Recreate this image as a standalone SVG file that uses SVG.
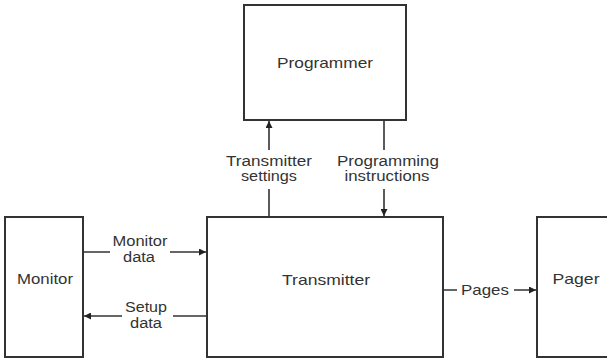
<svg xmlns="http://www.w3.org/2000/svg" width="607" height="359" viewBox="0 0 607 359">
<defs>
<style>
.box{fill:#fff;stroke:#333;stroke-width:2}
.t{font-family:"Liberation Sans",Arial,sans-serif;font-size:15px;fill:#333;text-anchor:middle}
.s{font-size:14px}
.c{stroke:#333;stroke-width:1.6;fill:none}
</style>
<marker id="ah" viewBox="0 0 10 10" refX="10" refY="5" markerWidth="7" markerHeight="7" markerUnits="userSpaceOnUse" orient="auto"><path d="M0,0L10,5L0,10z" fill="#222"/></marker>
</defs>
<rect width="607" height="359" fill="#fff"/>
<g id="programmer"><rect class="box" x="244" y="5" width="162" height="115"/><text class="t" x="325" y="68" textLength="96" lengthAdjust="spacingAndGlyphs">Programmer</text></g>
<g id="transmitter"><rect class="box" x="207" y="217" width="236" height="140"/><text class="t" x="326" y="285" textLength="88" lengthAdjust="spacingAndGlyphs">Transmitter</text></g>
<g id="monitor"><rect class="box" x="5" y="217" width="78" height="140"/><text class="t" x="45" y="284" textLength="56" lengthAdjust="spacingAndGlyphs">Monitor</text></g>
<g id="pager"><rect class="box" x="537" y="217" width="80" height="140"/><text class="t" x="576" y="284" textLength="47" lengthAdjust="spacingAndGlyphs">Pager</text></g>
<g id="connectors">
<path class="c" d="M269,217V189M269,150V121" marker-end="url(#ah)"/>
<path class="c" d="M384,120V150M384,189V216" marker-end="url(#ah)"/>
<path class="c" d="M83,252H110M170,252H206" marker-end="url(#ah)"/>
<path class="c" d="M207,316H173M122,316H84" marker-end="url(#ah)"/>
<path class="c" d="M443,290H457M514,290H536" marker-end="url(#ah)"/>
<text class="t s" x="269" y="166" textLength="86" lengthAdjust="spacingAndGlyphs">Transmitter</text>
<text class="t s" x="269" y="181" textLength="56" lengthAdjust="spacingAndGlyphs">settings</text>
<text class="t s" x="388" y="166" textLength="102" lengthAdjust="spacingAndGlyphs">Programming</text>
<text class="t s" x="387" y="181" textLength="85" lengthAdjust="spacingAndGlyphs">instructions</text>
<text class="t s" x="140" y="246" textLength="55" lengthAdjust="spacingAndGlyphs">Monitor</text>
<text class="t s" x="139" y="262" textLength="32" lengthAdjust="spacingAndGlyphs">data</text>
<text class="t s" x="146" y="312" textLength="42" lengthAdjust="spacingAndGlyphs">Setup</text>
<text class="t s" x="146" y="328" textLength="32" lengthAdjust="spacingAndGlyphs">data</text>
<text class="t" x="485" y="295" textLength="48" lengthAdjust="spacingAndGlyphs">Pages</text>
</g>
</svg>
